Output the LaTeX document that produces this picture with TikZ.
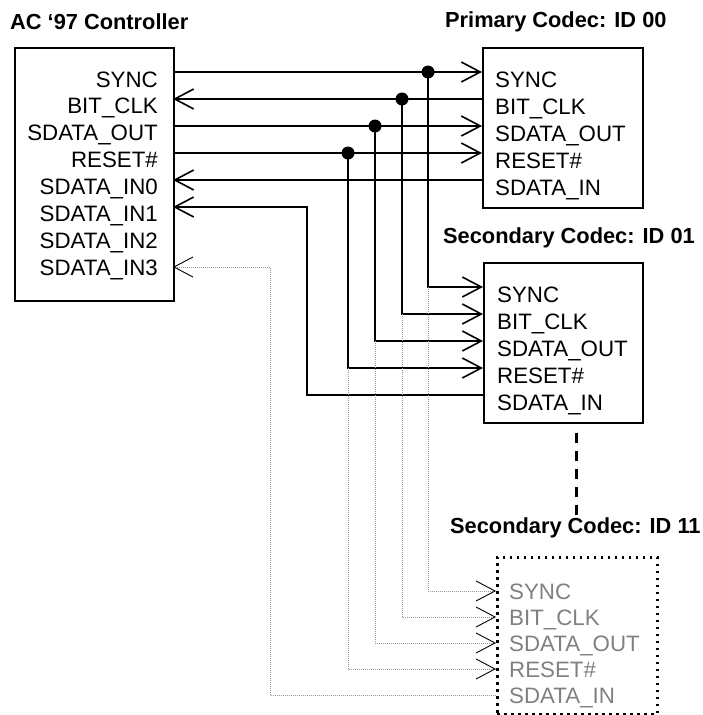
\documentclass[tikz,border=0pt]{standalone}
\usepackage{fontspec}
\setmainfont{Liberation Sans}
\usetikzlibrary{positioning}
\usetikzlibrary{arrows.meta}

\begin{document}
\begin{tikzpicture}[x=1pt, y=-1pt,
    box/.style={draw, line width=1.5pt, anchor=north west, inner sep=0pt},
    sig/.style={font=\fontsize{22.3}{26}\selectfont, inner sep=0pt},
    title/.style={font=\fontsize{21.8}{26}\selectfont\bfseries, anchor=base west, inner sep=0pt},
    wire/.style={line width=2pt, -{Straight Barb[length=19pt, width=20pt, line width=1.6pt]}},
    ghost/.style={draw=gray!80, line width=0.8pt, dash pattern=on 1pt off 1pt,
        -{Straight Barb[length=19pt, width=20pt, line width=0.9pt, color=black]}},
    junction/.style={circle, fill, inner sep=0pt, minimum size=13pt}
]

    \useasboundingbox (0,0) rectangle (703,715);

    % Draw boxes
    \node[box, minimum width=159pt, minimum height=253pt] (ctrl) at (14,47) {};
    \node[box, minimum width=160pt, minimum height=160pt] (prim) at (482,47) {};
    \node[box, minimum width=159pt, minimum height=160pt] (sec) at (483,262) {};
    \node[box, line width=2.5pt, dash pattern=on 2.5pt off 4.5pt, minimum width=160pt, minimum height=157pt] (ext) at (496,556) {};

    \node[title] (ctrl-title) at (10,29) {AC ‘97 Controller};
    \node[title] (prim-title) at (445,27) {Primary Codec: ID 00};
    \node[title] (sec-title) at (443,243) {Secondary Codec: ID 01};
    \node[title] (ext-title) at (450,533) {Secondary Codec: ID 11};

    % Pin labels
    \foreach \name [count=\i from 0] in {SYNC, BIT\_CLK, SDATA\_OUT, RESET\#, SDATA\_IN0, SDATA\_IN1, SDATA\_IN2, SDATA\_IN3}
        \node[sig, anchor=base east] (ctrl-\i) at (158,87+26.9*\i) {\name};
    \foreach \name [count=\i from 0] in {SYNC, BIT\_CLK, SDATA\_OUT, RESET\#, SDATA\_IN} {
        \node[sig, anchor=base west] (prim-\i) at (495,87+27*\i) {\name};
        \node[sig, anchor=base west] (sec-\i) at (497,302+27*\i) {\name};
        \node[sig, anchor=base west, text=gray] (ext-\i) at (509,599+26*\i) {\name};
    }

    % Pins
    \foreach \i in {0,...,5}
        \coordinate (c\i) at (173,72+27*\i);
    \coordinate (c7) at (173,267);
    \foreach \i in {0,...,4} {
        \coordinate (p\i) at (482,72+27*\i);
        \coordinate (s\i) at (483,287+27*\i);
        \coordinate (e\i) at (496,591+26*\i);
    }
    \coordinate (k5) at (307,207);
    \coordinate (k7) at (270,267);

    % Branch points
    \node[junction] (j0) at (428,72) {};
    \node[junction] (j1) at (402,99) {};
    \node[junction] (j2) at (375,126) {};
    \node[junction] (j3) at (348,153) {};

    % Primary codec
    \draw[wire] (c0) -- (p0);
    \draw[wire] (p1) -- (c1);
    \draw[wire] (c2) -- (p2);
    \draw[wire] (c3) -- (p3);
    \draw[wire] (p4) -- (c4);

    % Secondary codec ID 01
    \foreach \i in {0,...,3}
        \draw[wire] (j\i.center) |- (s\i);
    \draw[wire] (s4) -| (k5) -- (c5);

    % Secondary codec ID 11
    \foreach \i in {0,...,3}
        \draw[ghost] (j\i |- s\i) |- (e\i);
    \draw[ghost] (e4) -| (k7) -- (c7);

    \coordinate (d0) at (576,433);
    \coordinate (d1) at (576,515);
    \draw[line width=3pt, dash pattern=on 10pt off 8pt] (d0) -- (d1);

\end{tikzpicture}
\end{document}
